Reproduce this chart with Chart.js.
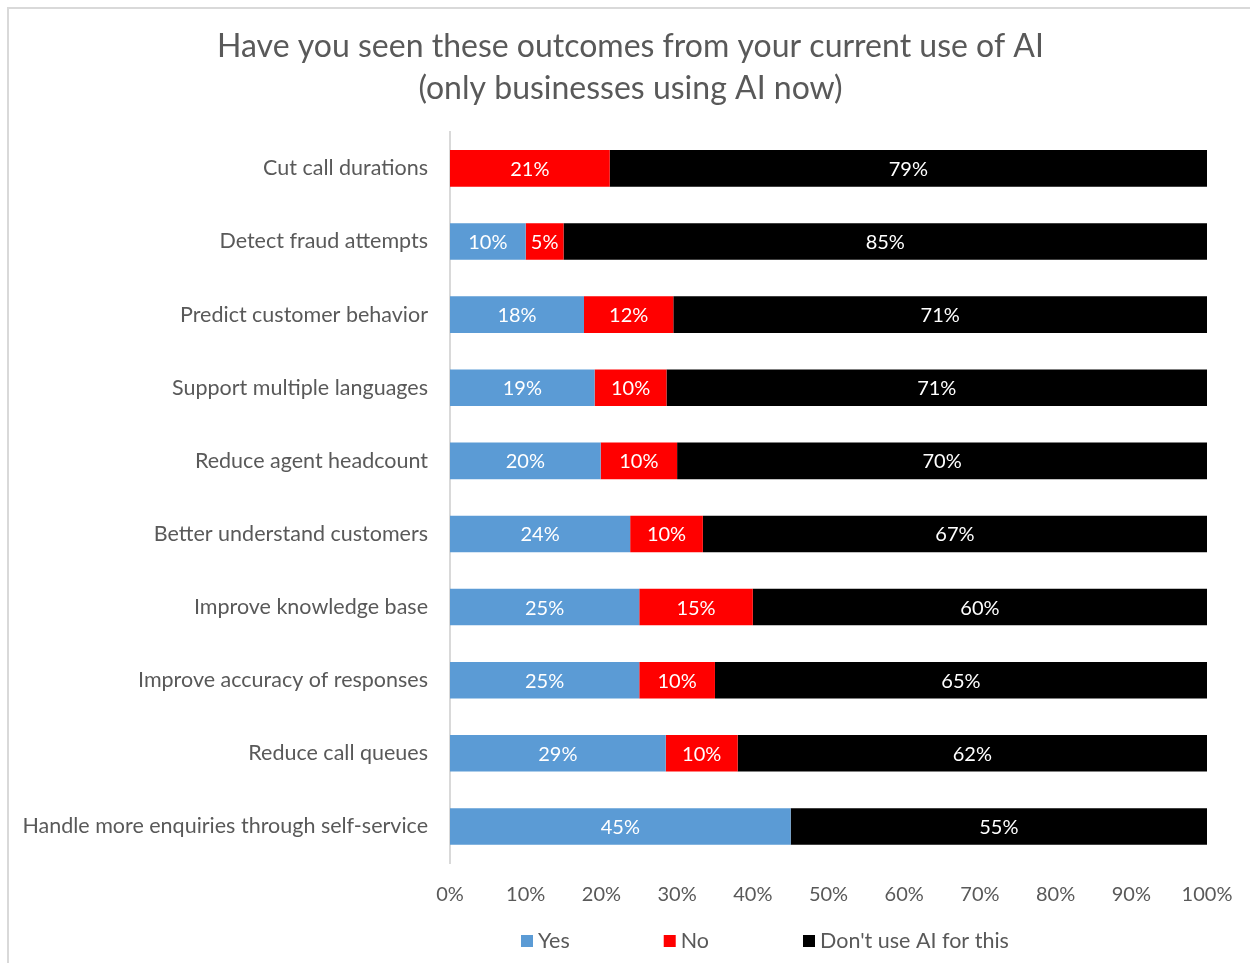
<!DOCTYPE html>
<html>
<head>
<meta charset="utf-8">
<script src="https://cdn.jsdelivr.net/npm/chart.js@4"></script>
<style>
    html, body { margin: 0; padding: 0; background: #fff; }
    #wrap { position: relative; width: 1250px; height: 963px; overflow: hidden; }
    #frame { position: absolute; left: 7px; top: 7px; width: 1300px; height: 1000px;
             border-left: 2px solid #d9d9d9; border-top: 2px solid #d9d9d9; }
    canvas { position: absolute; left: 0; top: 0; }
</style>
</head>
<body>
<div id="wrap">
    <div id="frame"></div>
    <canvas id="myChart" width="1250" height="963"></canvas>
</div>
<script>
// categories, top to bottom
const categories = [
    "Cut call durations",
    "Detect fraud attempts",
    "Predict customer behavior",
    "Support multiple languages",
    "Reduce agent headcount",
    "Better understand customers",
    "Improve knowledge base",
    "Improve accuracy of responses",
    "Reduce call queues",
    "Handle more enquiries through self-service"
]

// shares in percent
const yesValues   = [0,    10.0, 17.7, 19.1, 19.9, 23.8, 25.0, 25.0, 28.5, 45.0]
const noValues    = [21.1,  5.0, 11.8,  9.5, 10.1,  9.6, 15.0, 10.0,  9.5,  0]
const dontValues  = [78.9, 85.0, 70.5, 71.4, 70.0, 66.6, 60.0, 65.0, 62.0, 55.0]

const tickLabels = ["0%", "10%", "20%", "30%", "40%", "50%", "60%", "70%", "80%", "90%", "100%"]

const seriesNames = ["Yes", "No", "Don't use AI for this"]
const seriesColors = ['#5B9BD5', '#FF0000', '#000000']

const FONT = "Lato, 'Open Sans', sans-serif"
const GREY = '#595959'

// white % labels in the middle of each segment
const barLabels = {
    id: 'barLabels',
    afterDatasetsDraw(chart) {
        const ctx = chart.ctx
        ctx.save()
        ctx.fillStyle = '#fff'
        ctx.font = '20px ' + FONT
        ctx.textAlign = 'center'
        ctx.textBaseline = 'middle'
        chart.data.datasets.forEach((ds, i) => {
            const meta = chart.getDatasetMeta(i)
            meta.data.forEach((bar, j) => {
                const v = ds.data[j]
                if (!v) return
                ctx.fillText(Math.round(v) + '%', (bar.x + bar.base) / 2, bar.y + 1)
            })
        })
        ctx.restore()
    }
}

// legend drawn by hand so the wide gaps don't eat vertical space
const bottomLegend = {
    id: 'bottomLegend',
    afterDraw(chart) {
        const ctx = chart.ctx
        ctx.save()
        ctx.font = '21.5px ' + FONT
        ctx.textBaseline = 'middle'
        let x = 521
        const y = 941
        chart.data.datasets.forEach((ds) => {
            ctx.fillStyle = ds.backgroundColor
            ctx.fillRect(x, y - 6, 12, 12)
            ctx.fillStyle = GREY
            ctx.fillText(ds.label, x + 17, y)
            x += 17 + ctx.measureText(ds.label).width + 94
        })
        ctx.restore()
    }
}

// title in the original sits a bit right of the canvas centre
const shiftTitle = {
    id: 'shiftTitle',
    afterLayout(chart) {
        const t = chart.titleBlock
        if (!t) return
        t.left = 54
        t.right = chart.chartArea.right
        t.width = t.right - t.left
    }
}

const mk = (i, values) => ({
    label: seriesNames[i],
    data: values,
    backgroundColor: seriesColors[i],
    borderWidth: 0,
    categoryPercentage: 0.5,
    barPercentage: 1.0
})

new Chart("myChart", {
    type: 'bar',
    data: {
        labels: categories,
        datasets: [mk(0, yesValues), mk(1, noValues), mk(2, dontValues)]
    },
    options: {
        indexAxis: 'y',
        responsive: false,
        animation: false,
        layout: { padding: { top: 16, right: 43, bottom: 44, left: 0 } },
        plugins: {
            title: {
                display: true,
                text: ["Have you seen these outcomes from your current use of AI", "(only businesses using AI now)"],
                color: GREY,
                font: { family: FONT, size: 32, weight: 'normal', lineHeight: 1.31 },
                padding: { top: 10, bottom: 22 }
            },
            legend: { display: false },
            tooltip: { enabled: false }
        },
        scales: {
            x: {
                stacked: true,
                min: 0,
                max: 100,
                grid: { display: false },
                border: { display: false },
                ticks: {
                    stepSize: 10,
                    color: GREY,
                    font: { family: FONT, size: 20 },
                    padding: 12,
                    callback: (v, i) => tickLabels[i]
                }
            },
            y: {
                stacked: true,
                grid: { display: true, drawOnChartArea: false, drawTicks: false },
                border: { display: true, color: '#d9d9d9', width: 2 },
                ticks: {
                    color: GREY,
                    font: { family: FONT, size: 21.5 },
                    padding: 22
                },
                afterFit: (scale) => { scale.width = 450 }
            }
        }
    },
    plugins: [barLabels, bottomLegend, shiftTitle]
})
</script>
</body>
</html>
